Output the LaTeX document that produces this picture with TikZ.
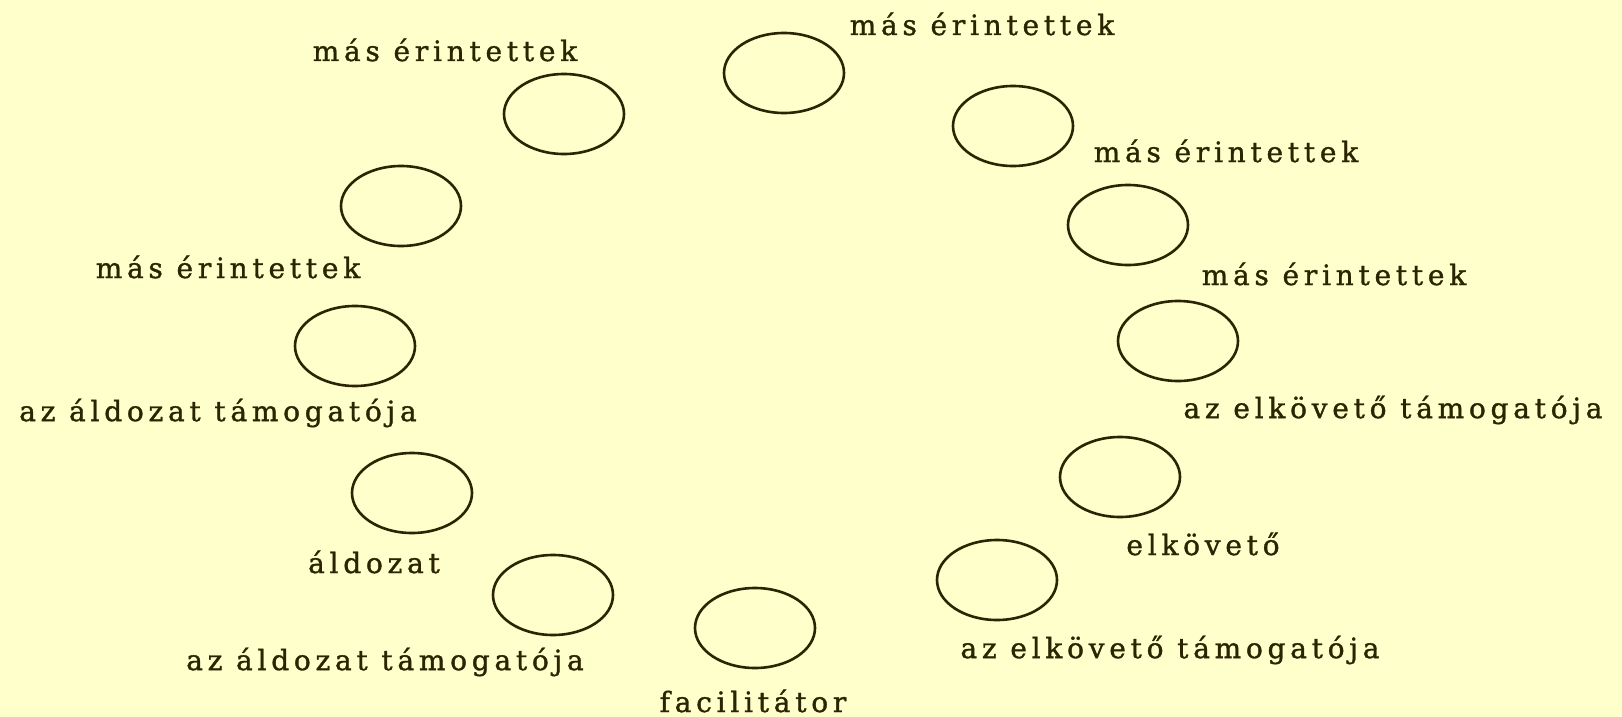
\documentclass[tikz,border=0pt]{standalone}
\usepackage{fontspec}
\setmainfont{DejaVu Serif}[LetterSpace=17,FakeBold=1.2]
\usetikzlibrary{shapes.geometric}
\definecolor{bg}{HTML}{FFFFCC}
\definecolor{ink}{HTML}{2B2400}
\begin{document}
\begin{tikzpicture}[x=1pt,y=-1pt,
  oval/.style={draw=ink, line width=2.6pt, ellipse, minimum width=120pt, minimum height=80pt, inner sep=0pt},
  lbl/.style={text=ink, font=\fontsize{28}{32}\selectfont, inner sep=0pt, anchor=center}]
\fill[bg] (0,0) rectangle (1622,717);
\useasboundingbox (0,0) rectangle (1622,717);
% ovals
\node[oval] (o1) at (784,73) {};
\node[oval] (o2) at (564,114) {};
\node[oval] (o3) at (1013,126) {};
\node[oval] (o4) at (401,206) {};
\node[oval] (o5) at (1128,225) {};
\node[oval] (o6) at (355,346) {};
\node[oval] (o7) at (1178,341) {};
\node[oval] (o8) at (412,493) {};
\node[oval] (o9) at (1120,477) {};
\node[oval] (o10) at (553,595) {};
\node[oval] (o11) at (997,580) {};
\node[oval] (o12) at (755,628) {};
% labels
\node[lbl] (l1) at (982,24) {más érintettek};
\node[lbl] (l2) at (445,50) {más érintettek};
\node[lbl] (l3) at (1226,151) {más érintettek};
\node[lbl] (l4) at (228,267) {más érintettek};
\node[lbl] (l5) at (1334,274) {más érintettek};
\node[lbl] (l6) at (218,413) {az áldozat támogatója};
\node[lbl] (l7) at (1393,410) {az elkövető támogatója};
\node[lbl] (l8) at (374,562) {áldozat};
\node[lbl] (l9) at (1203,544) {elkövető};
\node[lbl] (l10) at (1170,650) {az elkövető támogatója};
\node[lbl] (l11) at (385,662) {az áldozat támogatója};
\node[lbl] (l12) at (753,701) {facilitátor};
\end{tikzpicture}
\end{document}
